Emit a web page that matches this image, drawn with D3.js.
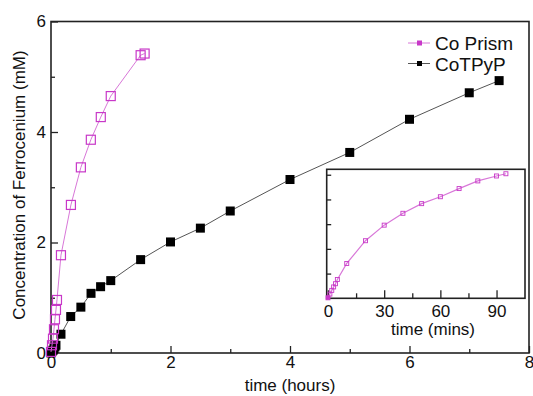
<!DOCTYPE html>
<html>
<head>
<meta charset="utf-8">
<script src="https://cdn.jsdelivr.net/npm/d3@7"></script>
<style>
  html, body { margin: 0; padding: 0; background: #fff; }
  svg { display: block; font-family: "Liberation Sans", Arial, sans-serif; }
</style>
</head>
<body>
<div id="chart"></div>
<script>
// Co Prism, main panel (time in minutes, converted to hours below)
const prismMins = [0, 1, 2, 3, 4, 5, 6, 10, 20, 30, 40, 50, 60, 90, 94];
const prismConc = [0.02, 0.14, 0.26, 0.43, 0.61, 0.78, 0.96, 1.77, 2.68, 3.36, 3.86, 4.27, 4.65, 5.39, 5.42];

// CoTPyP (hours)
const tpypHours = [0, 0.017, 0.033, 0.05, 0.067, 0.083, 0.167, 0.33, 0.5, 0.67, 0.83, 1, 1.5, 2, 2.5, 3, 4, 5, 6, 7, 7.5];
const tpypConc = [0, 0.03, 0.05, 0.08, 0.11, 0.14, 0.34, 0.66, 0.83, 1.08, 1.2, 1.31, 1.69, 2.01, 2.26, 2.57, 3.14, 3.63, 4.23, 4.71, 4.93];

// inset: Co Prism over the first 95 mins (y in inset tick units, unlabeled)
const insetMins = [0, 1, 2, 3, 4, 5, 10, 20, 30, 40, 50, 60, 70, 80, 90, 95];
const insetVals = [0.02, 0.17, 0.32, 0.46, 0.59, 0.76, 1.41, 2.33, 2.96, 3.44, 3.83, 4.11, 4.44, 4.75, 4.95, 5.04];

const xMajor = [0, 2, 4, 6, 8], xMinor = [1, 3, 5, 7];
const yMajor = [0, 2, 4, 6], yMinor = [1, 3, 5];
const insetXMajor = [0, 30, 60, 90], insetXMinor = [15, 45, 75];
const insetYTicks = [1, 2, 3, 4, 5];

const legendNames = ['Co Prism', 'CoTPyP'];
const purple = '#c838c8', purpleLine = '#d877d8';

const W = 533, H = 396;
const svg = d3.select('#chart').append('svg').attr('width', W).attr('height', H);

const x = d3.scaleLinear().domain([0, 8]).range([51, 529]);
const y = d3.scaleLinear().domain([0, 6]).range([353, 21.5]);

const prismData = prismMins.map((m, i) => ({ t: m / 60, c: prismConc[i] }));
const tpypData = tpypHours.map((h, i) => ({ t: h, c: tpypConc[i] }));

// axes with inward ticks
function tickAxis(g, axis, values, size, labels) {
  g.call(axis.tickValues(values).tickSizeInner(-size).tickSizeOuter(0).tickPadding(size + 4)
    .tickFormat(labels ? d3.format('d') : ''));
  g.select('.domain').remove();
  g.selectAll('line').attr('stroke', '#222').attr('stroke-width', 1.3);
  g.selectAll('text').attr('font-size', 17).attr('fill', '#111').style('font-family', 'inherit');
}

const xg = svg.append('g').attr('transform', 'translate(0,353)');
tickAxis(xg.append('g'), d3.axisBottom(x), xMajor, 7, true);
tickAxis(xg.append('g'), d3.axisBottom(x), xMinor, 4, false);
xg.selectAll('text').attr('dy', '0.71em').attr('y', 3);

const yg = svg.append('g').attr('transform', 'translate(51,0)');
tickAxis(yg.append('g'), d3.axisLeft(y), yMajor, 7, true);
tickAxis(yg.append('g'), d3.axisLeft(y), yMinor, 4, false);
yg.selectAll('text').attr('x', -5);

svg.append('rect')
  .attr('x', 51).attr('y', 21.5).attr('width', 478).attr('height', 353 - 21.5)
  .attr('fill', 'none').attr('stroke', '#222').attr('stroke-width', 1.6);

// axis titles
svg.append('text').attr('x', 290).attr('y', 391).attr('text-anchor', 'middle')
  .attr('font-size', 17).attr('fill', '#111').text('time (hours)');
svg.append('text').attr('transform', 'translate(25,185) rotate(-90)').attr('text-anchor', 'middle')
  .attr('font-size', 17).attr('fill', '#111').text('Concentration of Ferrocenium (mM)');

const line = d3.line().x(d => x(d.t)).y(d => y(d.c));

// CoTPyP
svg.append('path').datum(tpypData).attr('fill', 'none').attr('stroke', '#555').attr('stroke-width', 1).attr('d', line);
svg.selectAll('.tpyp').data(tpypData).enter().append('rect').attr('class', 'tpyp')
  .attr('x', d => x(d.t) - 4.5).attr('y', d => y(d.c) - 4.5).attr('width', 9).attr('height', 9)
  .attr('fill', '#000');

// Co Prism
svg.append('path').datum(prismData).attr('fill', 'none').attr('stroke', purpleLine).attr('stroke-width', 1).attr('d', line);
svg.selectAll('.prism').data(prismData).enter().append('rect').attr('class', 'prism')
  .attr('x', d => x(d.t) - 4.5).attr('y', d => y(d.c) - 4.5).attr('width', 9).attr('height', 9)
  .attr('fill', 'none').attr('stroke', purple).attr('stroke-width', 1.2);

// legend
const leg = svg.append('g');
legendNames.forEach((name, i) => {
  const ly = 43 + i * 20.5;
  const col = i === 0 ? purple : '#000';
  leg.append('line').attr('x1', 408).attr('x2', 430).attr('y1', ly).attr('y2', ly)
    .attr('stroke', i === 0 ? purpleLine : '#555').attr('stroke-width', 1);
  leg.append('rect').attr('x', 417).attr('y', ly - 2.5).attr('width', 5).attr('height', 5).attr('fill', col);
  leg.append('text').attr('x', 435).attr('y', ly + 7).attr('font-size', 19).attr('fill', '#111').text(name);
});

// inset
const ix = d3.scaleLinear().domain([-0.7, 105.2]).range([326.7, 525]);
const iy = d3.scaleLinear().domain([0, 5.22]).range([298.3, 169.3]);

svg.append('rect').attr('x', 326.7).attr('y', 169.3).attr('width', 525 - 326.7).attr('height', 298.3 - 169.3)
  .attr('fill', '#fff').attr('stroke', 'none');

const ixg = svg.append('g').attr('transform', 'translate(0,298.3)');
tickAxis(ixg.append('g'), d3.axisBottom(ix), insetXMajor, 8, true);
tickAxis(ixg.append('g'), d3.axisBottom(ix), insetXMinor, 5, false);
ixg.selectAll('text').attr('dy', '0.71em').attr('y', 7);

const iyg = svg.append('g').attr('transform', 'translate(326.7,0)');
tickAxis(iyg.append('g'), d3.axisLeft(iy), insetYTicks, 4.5, false);

svg.append('rect').attr('x', 326.7).attr('y', 169.3).attr('width', 525 - 326.7).attr('height', 298.3 - 169.3)
  .attr('fill', 'none').attr('stroke', '#222').attr('stroke-width', 1.6);

svg.append('text').attr('x', 433).attr('y', 335).attr('text-anchor', 'middle')
  .attr('font-size', 17).attr('fill', '#111').text('time (mins)');

const insetData = insetMins.map((m, i) => ({ t: m, c: insetVals[i] }));
const iline = d3.line().x(d => ix(d.t)).y(d => iy(d.c));
svg.append('path').datum(insetData).attr('fill', 'none').attr('stroke', purpleLine).attr('stroke-width', 1.2).attr('d', iline);
svg.selectAll('.inset').data(insetData).enter().append('rect').attr('class', 'inset')
  .attr('x', d => ix(d.t) - 2).attr('y', d => iy(d.c) - 2).attr('width', 4).attr('height', 4)
  .attr('fill', (d, i) => i === 0 ? purple : 'none').attr('stroke', purple).attr('stroke-width', 0.9);
</script>
</body>
</html>
